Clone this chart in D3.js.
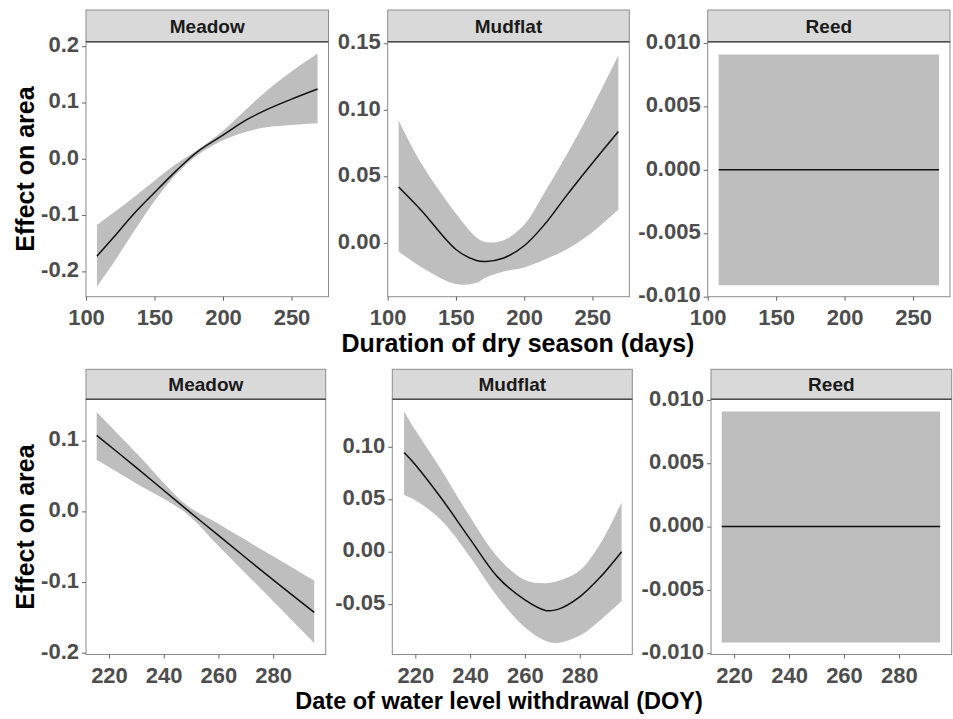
<!DOCTYPE html>
<html>
<head>
<meta charset="utf-8">
<script src="https://cdn.jsdelivr.net/npm/d3@7"></script>
<style>
  body { margin: 0; background: #fff; }
  svg { display: block; }
  text { font-family: "Liberation Sans", Arial, sans-serif; font-weight: bold; }
</style>
</head>
<body>
<div class="chart"></div>
<script>
// ---- data ----
// top row: duration of dry season (days)
var dryMeadowX   = [108, 120, 134.5, 150, 166, 181, 200, 217, 231.5, 250, 269];
var dryMeadowFit = [-0.173, -0.140, -0.099, -0.060, -0.021, 0.012, 0.042, 0.069, 0.087, 0.106, 0.124];
var dryMeadowLo  = [-0.227, -0.185, -0.131, -0.075, -0.027, 0.006, 0.033, 0.048, 0.056, 0.060, 0.063];
var dryMeadowHi  = [-0.118, -0.096, -0.069, -0.039, -0.009, 0.015, 0.050, 0.088, 0.120, 0.155, 0.187];

var dryMudX   = [108, 125, 150, 165, 172, 185, 200, 215, 231, 250, 269];
var dryMudFit = [0.042, 0.024, -0.005, -0.0133, -0.014, -0.0114, -0.0022, 0.0139, 0.0355, 0.060, 0.0837];
var dryMudLo  = [-0.0065, -0.0185, -0.031, -0.030, -0.026, -0.0215, -0.0185, -0.0125, -0.005, 0.008, 0.025];
var dryMudHi  = [0.092, 0.059, 0.022, 0.004, 0.0005, 0.002, 0.0135, 0.038, 0.066, 0.102, 0.141];

var dryReedX   = [108, 269];
var dryReedFit = [0, 0];
var dryReedLo  = [-0.0091, -0.0091];
var dryReedHi  = [0.0091, 0.0091];

// bottom row: date of water level withdrawal (DOY)
var doyMeadowX   = [215.5, 230, 248, 260, 280, 295];
var doyMeadowFit = [0.1075, 0.062, 0.004, -0.034, -0.097, -0.143];
var doyMeadowLo  = [0.073, 0.0396, -0.002, -0.049, -0.127, -0.186];
var doyMeadowHi  = [0.1405, 0.0825, 0.010, -0.0176, -0.0636, -0.098];

var doyMudX   = [215.9, 220, 229.5, 240, 250, 260, 267.5, 272, 280, 287.6, 295.3];
var doyMudFit = [0.0946, 0.083, 0.051, 0.012, -0.024, -0.046, -0.056, -0.055, -0.043, -0.024, 0.0];
var doyMudLo  = [0.054, 0.049, 0.030, -0.005, -0.043, -0.072, -0.085, -0.087, -0.080, -0.065, -0.047];
var doyMudHi  = [0.134, 0.116, 0.078, 0.033, -0.005, -0.027, -0.030, -0.028, -0.018, 0.008, 0.047];

var doyReedX   = [215.5, 295];
var doyReedFit = [0, 0];
var doyReedLo  = [-0.00916, -0.00916];
var doyReedHi  = [0.00908, 0.00908];

// ticks
var dryTicks = [100, 150, 200, 250];
var doyTicks = [220, 240, 260, 280];
var meadowTopTicks = [-0.2, -0.1, 0, 0.1, 0.2];
var meadowBotTicks = [-0.2, -0.1, 0, 0.1];
var mudTopTicks = [0, 0.05, 0.10, 0.15];
var mudBotTicks = [-0.05, 0, 0.05, 0.10];
var reedTicks = [-0.01, -0.005, 0, 0.005, 0.01];

var yTitle = 'Effect on area';
var dryTitle = 'Duration of dry season (days)';
var doyTitle = 'Date of water level withdrawal (DOY)';

// ---- layout ----
var W = 953, H = 719;
var svg = d3.select('.chart').append('svg')
    .attr('width', W)
    .attr('height', H);

function rows(xs, fit, lo, hi) {
    return xs.map((x, i) => ({ x: x, fit: fit[i], lo: lo[i], hi: hi[i] }));
}

var topRow = { stripTop: 10, top: 41.7, bottom: 296.7, xDomain: [100, 277], xTicks: dryTicks };
var botRow = { stripTop: 369.3, top: 399.3, bottom: 654.5, xDomain: [211.6, 299.2], xTicks: doyTicks };

var panels = [
    { name: 'Meadow', row: topRow, left: 86, right: 328.5, yDomain: [-0.245, 0.208], yTicks: meadowTopTicks, dec: 1,
      data: rows(dryMeadowX, dryMeadowFit, dryMeadowLo, dryMeadowHi) },
    { name: 'Mudflat', row: topRow, left: 387.7, right: 629.3, yDomain: [-0.0405, 0.1512], yTicks: mudTopTicks, dec: 2,
      data: rows(dryMudX, dryMudFit, dryMudLo, dryMudHi) },
    { name: 'Reed', row: topRow, left: 707.7, right: 950, yDomain: [-0.0100, 0.0101], yTicks: reedTicks, dec: 3,
      data: rows(dryReedX, dryReedFit, dryReedLo, dryReedHi) },
    { name: 'Meadow', row: botRow, left: 86, right: 325.7, yDomain: [-0.2025, 0.1586], yTicks: meadowBotTicks, dec: 1,
      data: rows(doyMeadowX, doyMeadowFit, doyMeadowLo, doyMeadowHi) },
    { name: 'Mudflat', row: botRow, left: 392.3, right: 632.3, yDomain: [-0.098, 0.1453], yTicks: mudBotTicks, dec: 2,
      data: rows(doyMudX, doyMudFit, doyMudLo, doyMudHi) },
    { name: 'Reed', row: botRow, left: 711, right: 951.7, yDomain: [-0.0101, 0.01005], yTicks: reedTicks, dec: 3,
      data: rows(doyReedX, doyReedFit, doyReedLo, doyReedHi) }
];

panels.forEach(function (p) {
    var r = p.row;
    var x = d3.scaleLinear().domain(r.xDomain).range([p.left, p.right]);
    var y = d3.scaleLinear().domain(p.yDomain).range([r.bottom, r.top]);
    var g = svg.append('g');

    // ribbon + fit line
    var curve = d3.curveCatmullRom.alpha(0.5);
    g.append('path')
        .datum(p.data)
        .attr('fill', '#bebebe')
        .attr('d', d3.area().curve(curve).x(d => x(d.x)).y0(d => y(d.lo)).y1(d => y(d.hi)));
    g.append('path')
        .datum(p.data)
        .attr('fill', 'none')
        .attr('stroke', '#111')
        .attr('stroke-width', 1.5)
        .attr('d', d3.line().curve(curve).x(d => x(d.x)).y(d => y(d.fit)));

    // panel border
    g.append('rect')
        .attr('x', p.left).attr('y', r.top)
        .attr('width', p.right - p.left).attr('height', r.bottom - r.top)
        .attr('fill', 'none').attr('stroke', '#8c8c8c').attr('stroke-width', 1);

    // strip
    g.append('rect')
        .attr('x', p.left).attr('y', r.stripTop)
        .attr('width', p.right - p.left).attr('height', r.top - r.stripTop)
        .attr('fill', '#d9d9d9').attr('stroke', '#8c8c8c').attr('stroke-width', 1);
    g.append('line')
        .attr('x1', p.left).attr('x2', p.right)
        .attr('y1', r.top).attr('y2', r.top)
        .attr('stroke', '#4d4d4d').attr('stroke-width', 1.4);
    g.append('text')
        .attr('x', (p.left + p.right) / 2)
        .attr('y', (r.stripTop + r.top) / 2)
        .attr('dy', '0.36em')
        .attr('text-anchor', 'middle')
        .attr('font-size', 19)
        .attr('fill', '#1a1a1a')
        .text(p.name);

    // axes
    var fmt = d => d3.format('.' + p.dec + 'f')(d).replace('\u2212', '-');
    var ya = g.append('g')
        .attr('transform', 'translate(' + p.left + ',0)')
        .call(d3.axisLeft(y).tickValues(p.yTicks).tickSize(4).tickPadding(3).tickFormat(fmt));
    var xa = g.append('g')
        .attr('transform', 'translate(0,' + r.bottom + ')')
        .call(d3.axisBottom(x).tickValues(r.xTicks).tickSize(4).tickPadding(9).tickFormat(d3.format('d')));
    [ya, xa].forEach(function (a) {
        a.select('.domain').remove();
        a.selectAll('.tick line').attr('stroke', '#666');
        a.selectAll('.tick text')
            .attr('fill', '#4d4d4d')
            .attr('font-size', 22)
            .attr('font-family', '"Liberation Sans", Arial, sans-serif')
            .attr('font-weight', 'bold');
    });
    ya.selectAll('.tick text').attr('dy', '0.24em');
});

// axis titles
svg.append('text')
    .attr('transform', 'translate(34,169) rotate(-90)')
    .attr('text-anchor', 'middle').attr('font-size', 25).attr('fill', '#000')
    .text(yTitle);
svg.append('text')
    .attr('transform', 'translate(34,527) rotate(-90)')
    .attr('text-anchor', 'middle').attr('font-size', 25).attr('fill', '#000')
    .text(yTitle);
svg.append('text')
    .attr('x', 518).attr('y', 352)
    .attr('text-anchor', 'middle').attr('font-size', 25).attr('fill', '#000')
    .text(dryTitle);
svg.append('text')
    .attr('x', 499).attr('y', 709)
    .attr('text-anchor', 'middle').attr('font-size', 23.5).attr('fill', '#000')
    .text(doyTitle);
</script>
</body>
</html>
